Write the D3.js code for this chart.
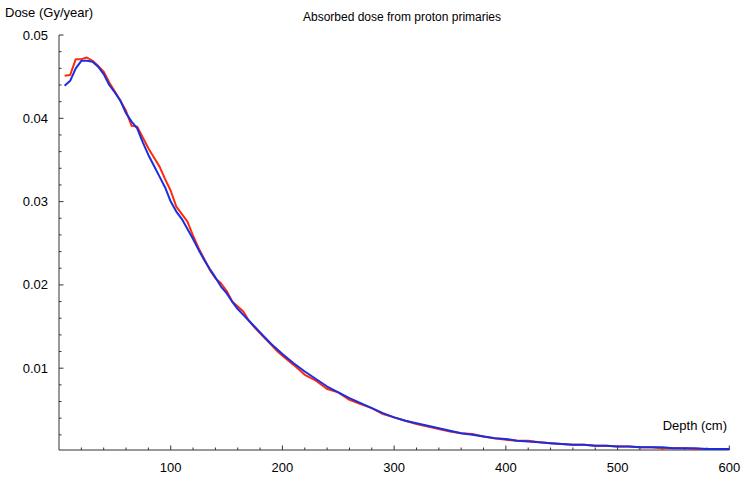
<!DOCTYPE html>
<html>
<head>
<meta charset="utf-8">
<script src="https://d3js.org/d3.v7.min.js"></script>
<style>
  body { margin: 0; background: #fff; }
  text { font-family: "Liberation Sans", Arial, sans-serif; fill: #000; }
</style>
</head>
<body>
<svg></svg>
<script>
// depth in cm
var depth = [5,10,15,20,25,30,35,40,45,50,55,60,65,70,75,80,85,90,95,100,
  105,110,115,120,125,130,135,140,145,150,155,160,165,170,175,180,185,190,195,200,
  210,220,230,240,250,260,270,280,290,300,310,320,330,340,350,360,370,380,390,400,
  410,420,430,440,450,460,470,480,490,500,510,520,530,540,550,560,570,580,590,600];

// red curve
var doseRed = [0.0451,0.0452,0.0471,0.0471,0.0473,0.0469,0.0463,0.0456,0.0443,0.0432,
  0.0421,0.0409,0.0391,0.0390,0.0377,0.0364,0.0353,0.0342,0.0327,0.0313,
  0.0294,0.0285,0.0276,0.0259,0.0244,0.0231,0.0218,0.0208,0.0202,0.0193,
  0.0180,0.0174,0.0168,0.0157,0.0149,0.0142,0.0135,0.0128,0.0121,0.0115,
  0.0104,0.0092,0.0085,0.0075,0.0071,0.0062,0.0057,0.0052,0.0045,0.0041,
  0.0037,0.0033,0.0030,0.0027,0.0024,0.0022,0.0021,0.0018,0.0016,0.0014,
  0.0013,0.0013,0.0011,0.0010,0.0009,0.0008,0.0008,0.0007,0.0007,0.0006,
  0.0006,0.0005,0.0005,0.0004,0.0004,0.0004,0.0003,0.0003,0.0003,0.0003];

// blue curve
var doseBlue = [0.0439,0.0445,0.0460,0.0469,0.0469,0.0468,0.0462,0.0453,0.0440,0.0431,
  0.0421,0.0406,0.0396,0.0388,0.0371,0.0356,0.0343,0.0330,0.0317,0.0300,
  0.0288,0.0279,0.0267,0.0255,0.0242,0.0230,0.0219,0.0209,0.0198,0.0190,
  0.0180,0.0171,0.0164,0.0157,0.0150,0.0143,0.0136,0.0129,0.0123,0.0117,
  0.0106,0.0096,0.0087,0.0078,0.0071,0.0064,0.0058,0.0052,0.0046,0.0041,
  0.0037,0.0034,0.0031,0.0028,0.0025,0.0022,0.0020,0.0018,0.0016,0.0015,
  0.0013,0.0012,0.0011,0.0010,0.0009,0.0008,0.0008,0.0007,0.0007,0.0006,
  0.0006,0.0005,0.0005,0.0005,0.0004,0.0004,0.0004,0.0003,0.0003,0.0003];

var xTicks = [100,200,300,400,500,600];
var yTicks = [0.01,0.02,0.03,0.04,0.05];

var width = 741, height = 479;

var x = d3.scaleLinear().domain([0, 600]).range([59, 729.3]);
var y = d3.scaleLinear().domain([0, 0.05]).range([451.5, 35]);
var axisY = 450; // where the x axis sits

var svg = d3.select("svg").attr("width", width).attr("height", height);

var axisColor = "#333";

// x axis
var gx = svg.append("g").attr("transform", "translate(0," + axisY + ")");
gx.append("line").attr("x1", x(0)).attr("x2", x(600)).attr("stroke", axisColor);
gx.selectAll(".minor").data(d3.range(20, 601, 20)).enter().append("line")
  .attr("x1", function(d){ return x(d); }).attr("x2", function(d){ return x(d); })
  .attr("y1", 0).attr("y2", function(d){ return d % 100 == 0 ? -4.5 : -2.5; })
  .attr("stroke", axisColor);
gx.selectAll(".lbl").data(xTicks).enter().append("text")
  .attr("x", function(d){ return x(d); }).attr("y", 22)
  .attr("text-anchor", "middle").attr("font-size", 13)
  .text(function(d){ return d; });

// y axis
var gy = svg.append("g").attr("transform", "translate(" + x(0) + ",0)");
gy.append("line").attr("y1", axisY).attr("y2", y(0.05)).attr("stroke", axisColor);
gy.selectAll(".minor").data(d3.range(1, 26).map(function(i){ return i * 0.002; })).enter().append("line")
  .attr("y1", function(d){ return y(d); }).attr("y2", function(d){ return y(d); })
  .attr("x1", 0).attr("x2", function(d){ return Math.abs(d * 100 - Math.round(d * 100)) < 1e-9 ? 4.5 : 2.5; })
  .attr("stroke", axisColor);
gy.selectAll(".lbl").data(yTicks).enter().append("text")
  .attr("x", -11).attr("y", function(d){ return y(d) + 4.5; })
  .attr("text-anchor", "end").attr("font-size", 13)
  .text(function(d){ return d3.format(".2f")(d); });

// labels
svg.append("text").attr("x", 5).attr("y", 17).attr("font-size", 13).text("Dose (Gy/year)");
svg.append("text").attr("x", 727).attr("y", 430).attr("text-anchor", "end").attr("font-size", 13).text("Depth (cm)");
svg.append("text").attr("x", 402).attr("y", 21).attr("text-anchor", "middle").attr("font-size", 12)
  .text("Absorbed dose from proton primaries");

// curves
var line = d3.line()
  .x(function(d){ return x(d[0]); })
  .y(function(d){ return y(d[1]); });

svg.append("path")
  .datum(depth.map(function(d, i){ return [d, doseRed[i]]; }))
  .attr("d", line).attr("fill", "none")
  .attr("stroke", "#ff2a0a").attr("stroke-width", 2).attr("stroke-linejoin", "round");

svg.append("path")
  .datum(depth.map(function(d, i){ return [d, doseBlue[i]]; }))
  .attr("d", line).attr("fill", "none")
  .attr("stroke", "#1a2ee0").attr("stroke-width", 2).attr("stroke-linejoin", "round");
</script>
</body>
</html>
